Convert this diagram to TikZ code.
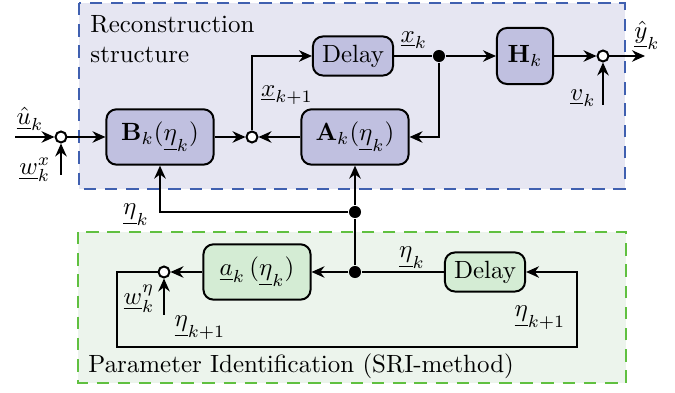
\documentclass[tikz,border=0pt]{standalone}
\usetikzlibrary{arrows.meta,positioning}
\definecolor{recbg}{RGB}{230,230,242}
\definecolor{recline}{RGB}{64,96,176}
\definecolor{recblk}{RGB}{192,192,224}
\definecolor{parbg}{RGB}{236,244,236}
\definecolor{parline}{RGB}{96,192,64}
\definecolor{parblk}{RGB}{212,236,212}
\tikzset{
  blk/.style={draw, thick, rounded corners=4pt, minimum height=0.78cm,
    minimum width=1.51cm, fill=recblk},
  dly/.style={blk, minimum height=0.54cm, minimum width=1.13cm},
  sum/.style={draw, circle, thick, fill=white, inner sep=0pt, minimum size=0.155cm},
  jnc/.style={circle, fill=black, inner sep=0pt, minimum size=0.17cm},
  sig/.style={thick, -{Stealth[length=5.2pt,width=4.6pt]}},
  frame/.style={thick, dash pattern=on 5pt off 3.5pt},
}
\begin{document}
\begin{tikzpicture}[x=0.0141cm, y=-0.0141cm]
\useasboundingbox (0,0) rectangle (675,393);
% the two subsystems
\draw[frame, recline, fill=recbg] (79,3) rectangle (625,189);
\draw[frame, parline, fill=parbg] (78,232) rectangle (626,383);
\node[anchor=north west, align=left, inner sep=0pt] (rtitle) at (90,15) {Reconstruction\\structure};
\node[anchor=west, inner sep=0pt] (ptitle) at (88,366) {Parameter Identification (SRI-method)};

% reconstruction blocks
\node[blk] (B) at (160,137) {$\mathbf{B}_k(\underline{\eta}_k)$};
\node[blk] (A) at (355,137) {$\mathbf{A}_k(\underline{\eta}_k)$};
\node[dly] (D1) at (353,56) {Delay};
\node[blk, minimum width=0.79cm, minimum height=0.79cm] (H) at (525,56) {$\mathbf{H}_k$};
\node[sum] (s1) at (61,137) {};
\node[sum] (s2) at (252,137) {};
\node[sum] (s3) at (603,56) {};
\node[jnc] (j1) at (439,56) {};
\coordinate (uin) at (15,137);
\coordinate (wx) at (61,175);
\coordinate (vin) at (603,105);
\coordinate (yout) at (645,56);

% identification blocks
\node[blk, fill=parblk] (a) at (257,272) {$\underline{a}_k\,(\underline{\eta}_k)$};
\node[dly, fill=parblk] (D2) at (485,272) {Delay};
\node[sum] (s4) at (164,272) {};
\node[jnc] (j2) at (355,212) {};
\node[jnc] (j3) at (355,272) {};
\coordinate (weta) at (164,315);
\coordinate (fb1) at (117,347);
\coordinate (fb2) at (577,347);

% signals
\draw[sig] (uin) -- (s1);
\draw[sig] (wx) -- (s1);
\draw[sig] (s1) -- (B);
\draw[sig] (B) -- (s2);
\draw[sig] (A) -- (s2);
\draw[sig] (s2) |- (D1);
\draw[thick] (D1) -- (j1);
\draw[sig] (j1) -- (H);
\draw[sig] (j1) |- (A);
\draw[sig] (H) -- (s3);
\draw[sig] (vin) -- (s3);
\draw[sig] (s3) -- (yout);
\draw[sig] (j2) -| (B);
\draw[sig] (j2) -- (A);
\draw[thick] (j3) -- (j2);
\draw[thick] (D2) -- (j3);
\draw[sig] (j3) -- (a);
\draw[sig] (a) -- (s4);
\draw[sig] (weta) -- (s4);
\draw[sig] (s4) -| (fb1) -- (fb2) |- (D2);

% signal names
\node (lu) at (30,119) {$\underline{\hat{u}}_k$};
\node (lwx) at (35,170) {$\underline{w}_k^x$};
\node (lx1) at (287,95) {$\underline{x}_{k+1}$};
\node (lx) at (414,40) {$\underline{x}_k$};
\node (ly) at (647,35) {$\underline{\hat{y}}_k$};
\node (lv) at (583,98) {$\underline{v}_k$};
\node (leta) at (136,215) {$\underline{\eta}_k$};
\node (leta2) at (412,258) {$\underline{\eta}_k$};
\node (lweta) at (139,299) {$\underline{w}_k^\eta$};
\node (le1) at (200,328) {$\underline{\eta}_{k+1}$};
\node (le2) at (540,318) {$\underline{\eta}_{k+1}$};
\end{tikzpicture}
\end{document}
